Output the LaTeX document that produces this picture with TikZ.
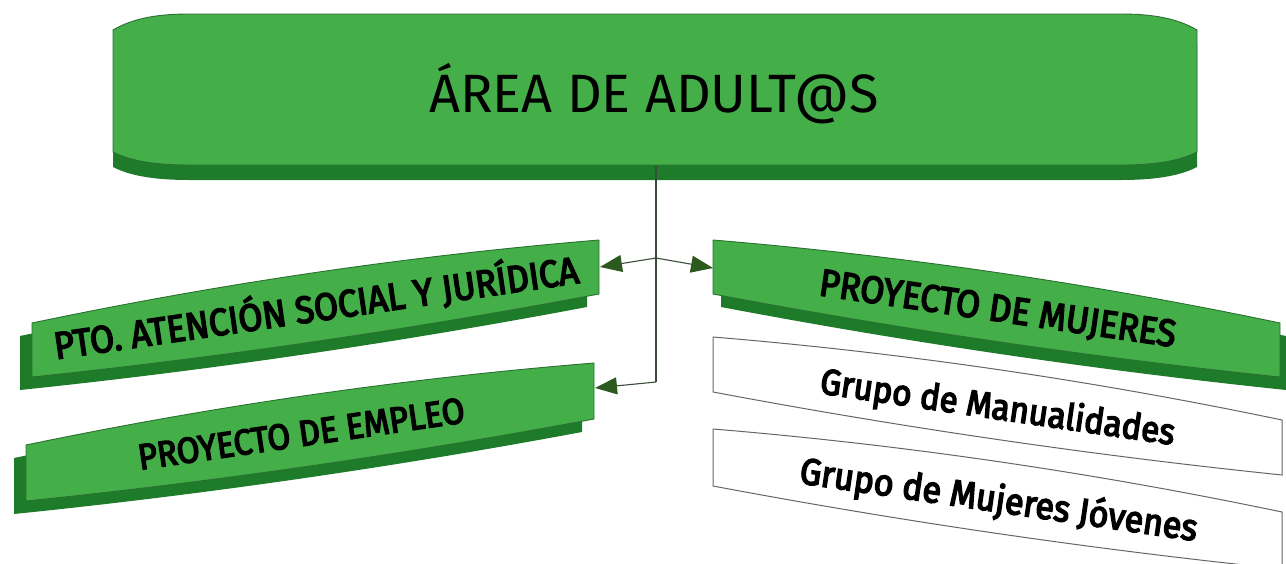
\documentclass[tikz,border=0pt]{standalone}
\usepackage{fontspec}
\setmainfont{Fira Sans}
\newfontfamily\lblfont{Fira Sans}[FakeBold=4,FakeStretch=0.92]
\usetikzlibrary{calc,arrows.meta}
\definecolor{facegreen}{HTML}{44AF49}
\definecolor{shadegreen}{HTML}{1E7B2A}
\definecolor{edgegreen}{HTML}{2A7030}
\definecolor{arrgreen}{HTML}{2C5A1E}
\definecolor{linegray}{HTML}{3C4A3A}
\tikzset{
  face/.style={fill=facegreen, draw=edgegreen, line width=0.9pt},
  shadeband/.style={fill=shadegreen},
  plainbox/.style={fill=white, draw=black!60, line width=1pt},
  lbl/.style={font=\lblfont\fontsize{38}{44}\selectfont, anchor=base, inner sep=0pt},
  lblsmall/.style={lbl, font=\lblfont\fontsize{36}{42}\selectfont},
  conn/.style={draw=linegray, line width=1.1pt},
  arr/.style={conn, -{Triangle[length=22pt,width=17pt,color=arrgreen]}},
}
% slanted cushion: style, x1, yTopLeft, x2, yTopRight, height, top bulge, bottom bulge
\newcommand\slab[8]{%
  \path[#1] (#2,#3) .. controls ($(#2,#3)!0.3333!(#4,#5)+(0,-#7)$) and ($(#2,#3)!0.6667!(#4,#5)+(0,-#7)$) .. (#4,#5)
    -- (#4,#5+#6) .. controls ($(#2,#3+#6)!0.6667!(#4,#5+#6)+(0,#8)$) and ($(#2,#3+#6)!0.3333!(#4,#5+#6)+(0,#8)$) .. (#2,#3+#6) -- cycle;}
% top box: style, vertical offset
\newcommand\topslab[2]{%
  \path[#1] (113,30+#2) .. controls (135,17+#2) and (162,14+#2) .. (189,14+#2) -- (1121,14+#2)
    .. controls (1148,14+#2) and (1175,17+#2) .. (1197,30+#2) -- (1197,152+#2)
    .. controls (1178,162+#2) and (1150,165+#2) .. (1121,165+#2) -- (189,165+#2)
    .. controls (160,165+#2) and (132,162+#2) .. (113,152+#2) -- cycle;}
\begin{document}
\begin{tikzpicture}[x=1pt,y=-1pt]
\useasboundingbox (0,0) rectangle (1286,563);
% top box
\topslab{shadeband}{15}
\topslab{face}{0}
\node[font=\fontsize{54}{60}\selectfont, anchor=base, inner sep=0pt] (title) at (654,112) {ÁREA DE ADULT@S};
% left boxes
\slab{shadeband}{20}{336}{587}{253}{54}{12}{8}
\slab{face}{32}{323}{599}{240}{54}{12}{8}
\slab{shadeband}{14}{458}{582}{376}{56}{12}{8}
\slab{face}{26}{445}{594}{363}{56}{12}{8}
% right boxes
\slab{shadeband}{721}{253}{1286}{336}{54}{12}{8}
\slab{face}{713}{240}{1280}{323}{54}{12}{8}
\slab{plainbox}{713}{337}{1282}{420}{55}{12}{8}
\slab{plainbox}{713}{429}{1282}{512}{57}{12}{8}
% labels
\node[lbl, rotate=8.3] (pto) at (318,321) {PTO. ATENCIÓN SOCIAL Y JURÍDICA};
\node[lblsmall, rotate=8.3] (emp) at (303,446) {PROYECTO DE EMPLEO};
\node[lbl, rotate=-8.3] (muj) at (996,321) {PROYECTO DE MUJERES};
\node[lblsmall, rotate=-8.3] (man) at (996,419) {Grupo de Manualidades};
\node[lbl, font=\lblfont\fontsize{37}{43}\selectfont, rotate=-8.3] (jov) at (997,512) {Grupo de Mujeres Jóvenes};
% connectors
\coordinate (top) at (656,166);
\coordinate (hub) at (656,258);
\coordinate (low) at (656,382);
\coordinate (ptoin) at (600,267);
\coordinate (mujin) at (713,268);
\coordinate (empin) at (595,388);
\draw[conn] (top) -- (low);
\draw[arr] (hub) -- (ptoin);
\draw[arr] (hub) -- (mujin);
\draw[arr] (low) -- (empin);
\end{tikzpicture}
\end{document}
